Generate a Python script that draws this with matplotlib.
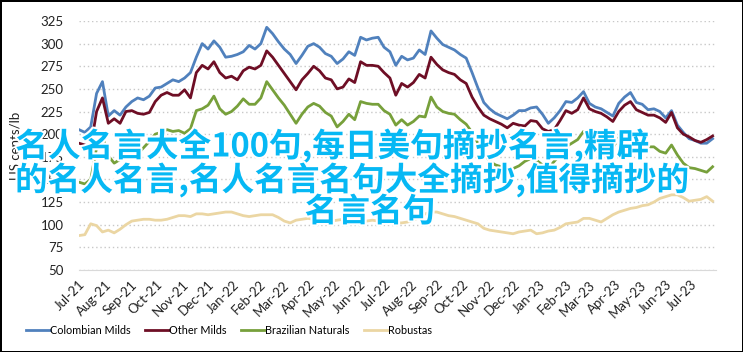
import numpy as np
import pandas as pd
import matplotlib.pyplot as plt
import matplotlib.dates as mdates
import matplotlib.patheffects as pe

# 每周数据 (2021-07 ~ 2023-07), 单位 US cents/lb
dates = pd.date_range('2021-07-01', periods=109, freq='7D')

colombian = [205, 202, 208, 245, 258, 220, 226, 221, 230, 236, 240, 238, 242, 251, 252, 256, 260, 258, 262, 268,
             285, 300, 294, 303, 296, 285, 286, 288, 291, 298, 294, 300, 318, 311, 302, 294, 288, 278, 287, 297,
             300, 296, 289, 286, 278, 283, 291, 287, 307, 304, 306, 307, 296, 291, 276, 286, 282, 284, 293, 288,
             314, 306, 299, 296, 293, 288, 284, 268, 251, 235, 228, 223, 220, 217, 221, 226, 226, 229, 230, 222,
             212, 218, 226, 236, 235, 240, 247, 234, 230, 228, 224, 220, 234, 241, 246, 235, 233, 227, 228, 225,
             218, 226, 210, 202, 195, 193, 190, 190, 195]
other_milds = [190, 188, 186, 225, 240, 212, 217, 212, 225, 226, 223, 222, 224, 236, 243, 246, 243, 243, 249, 240,
               268, 276, 272, 280, 268, 262, 264, 260, 270, 274, 272, 276, 292, 285, 276, 267, 258, 249, 260, 267,
               275, 270, 262, 260, 250, 252, 261, 257, 280, 276, 276, 275, 268, 262, 243, 256, 252, 257, 266, 262,
               285, 277, 271, 268, 266, 260, 256, 241, 230, 221, 217, 214, 211, 207, 212, 210, 209, 215, 214, 206,
               203, 205, 215, 226, 223, 227, 240, 228, 225, 223, 219, 214, 225, 232, 236, 227, 224, 221, 221, 218,
               213, 224, 207, 200, 197, 193, 191, 194, 198]
brazilian = [147, 145, 150, 185, 198, 176, 168, 172, 175, 180, 178, 185, 192, 200, 202, 205, 203, 204, 201, 206,
             226, 228, 232, 242, 228, 222, 225, 231, 239, 233, 233, 240, 258, 249, 240, 232, 222, 212, 222, 230,
             234, 231, 224, 220, 208, 214, 222, 216, 236, 234, 233, 233, 226, 222, 210, 216, 210, 214, 220, 219,
             241, 230, 225, 223, 222, 216, 211, 202, 190, 180, 170, 166, 164, 161, 162, 165, 170, 173, 171, 166,
             162, 170, 177, 186, 190, 194, 203, 194, 191, 190, 187, 185, 196, 201, 203, 193, 189, 186, 186, 181,
             179, 188, 177, 168, 163, 162, 160, 158, 164]
robustas = [88, 89, 101, 99, 92, 94, 91, 95, 100, 104, 105, 106, 106, 105, 105, 106, 108, 110, 110, 109,
            112, 112, 111, 112, 113, 114, 114, 112, 110, 109, 110, 111, 111, 111, 108, 104, 102, 105, 106, 107,
            106, 106, 105, 104, 105, 106, 105, 104, 103, 104, 105, 104, 103, 102, 102, 102, 103, 105, 108, 112,
            114, 114, 112, 110, 109, 107, 105, 103, 101, 96, 94, 93, 92, 91, 90, 92, 93, 94, 90, 91,
            93, 94, 97, 101, 102, 103, 107, 107, 105, 103, 107, 111, 114, 116, 118, 119, 121, 122, 125, 129,
            131, 133, 133, 130, 126, 127, 128, 131, 126]

series = [colombian, other_milds, brazilian, robustas]
names = ['Colombian Milds', 'Other Milds', 'Brazilian Naturals', 'Robustas']
colors = ['#5081bd', '#6e0e25', '#77a03b', '#ebd6a3']

plt.rcParams['font.family'] = ['Lato', 'DejaVu Sans']

fig = plt.figure(figsize=(7.43, 3.52), dpi=100)
fig.patch.set_edgecolor('black')
fig.patch.set_linewidth(2)
ax = fig.add_axes([0.1063, 0.233, 0.8573, 0.7074])

for vals, c, lab in zip(series, colors, names):
    ax.plot(dates, vals, color=c, lw=2, label=lab)

ax.set_ylim(50, 325)
ax.set_yticks(range(50, 326, 25))
ax.set_xlim(pd.Timestamp('2021-07-01'), pd.Timestamp('2023-07-31'))
ax.xaxis.set_major_locator(mdates.MonthLocator())
ax.xaxis.set_major_formatter(mdates.DateFormatter('%b-%y'))
ax.grid(axis='y', ls=(0, (1, 2)), color='#c8c8c8', lw=1)
ax.set_axisbelow(True)
for s in ['top', 'right', 'left']:
    ax.spines[s].set_visible(False)
ax.spines['bottom'].set_color('#d9d9d9')
ax.tick_params(length=0, labelsize=9.5, colors='#222222')
ax.tick_params(axis='y', pad=11)
ax.tick_params(axis='x', pad=6)
plt.setp(ax.get_xticklabels(), rotation=45, ha='right', rotation_mode='anchor')
ax.set_ylabel('US cents/lb', fontsize=9.5, color='#222222', labelpad=14)

fig.legend(loc='center', bbox_to_anchor=(229 / 743, 1 - 330 / 352), ncol=4, frameon=False,
           handlelength=2.2, handletextpad=0.05, columnspacing=1.3,
           prop={'family': ['Liberation Sans Narrow', 'Lato'], 'size': 7.8})

# 覆盖在图上的大字
lines = ['名人名言大全100句,每日美句摘抄名言,精辟',
         '的名人名言,名人名言名句大全摘抄,值得摘抄的',
         '名言名句']
cx = [332, 352, 370]
cy = [146, 180, 212]
for s, x, y in zip(lines, cx, cy):
    fig.text(x / 743, 1 - y / 352, s, ha='center', va='center', fontsize=23.5, color='#06b8f4',
             family=['Noto Sans CJK SC', 'DejaVu Sans'], fontweight='bold',
             path_effects=[pe.withStroke(linewidth=3, foreground='white')])

fig.savefig('out.png', dpi=100)
